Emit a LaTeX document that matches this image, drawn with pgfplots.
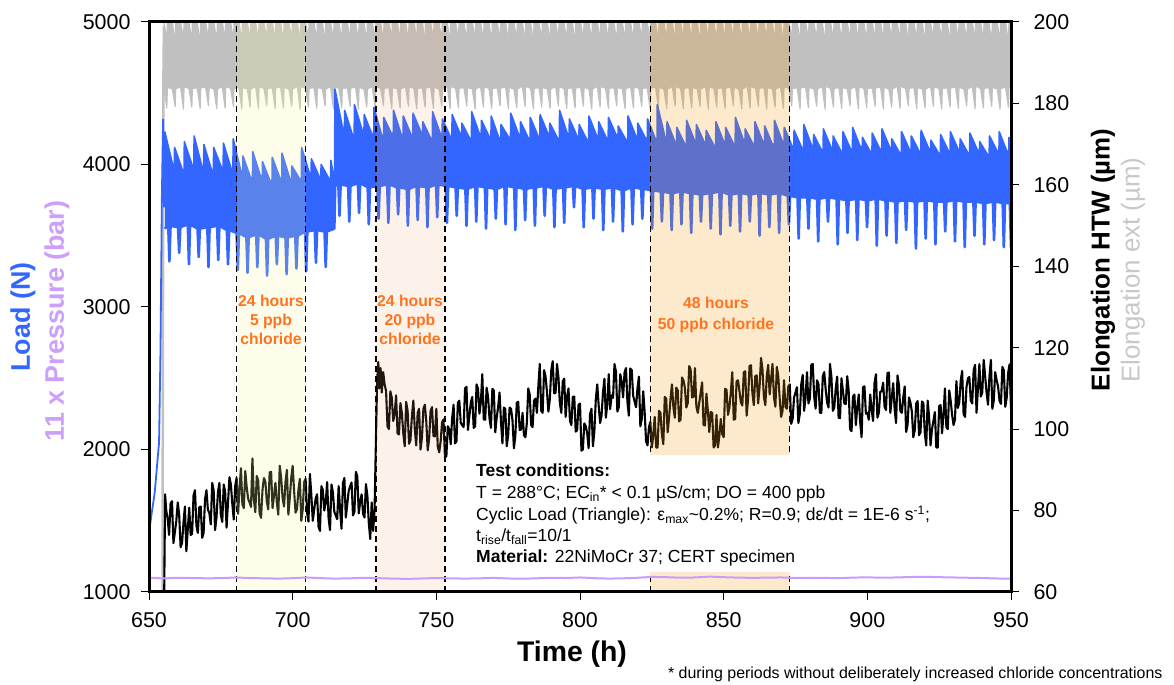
\documentclass[border=0pt]{standalone}
\usepackage{fontspec}
\setmainfont{Liberation Sans}
\usepackage{pgfplots}
\usepackage{pgfplotstable}
\pgfplotsset{compat=1.18}
\usepgfplotslibrary{fillbetween}

\definecolor{loadblue}{RGB}{51,102,255}
\definecolor{extgray}{RGB}{192,192,192}
\definecolor{presviolet}{RGB}{200,155,255}
\definecolor{labelviolet}{RGB}{204,160,250}
\definecolor{labelgray}{RGB}{200,200,200}
\definecolor{clorange}{RGB}{255,115,30}
\definecolor{zoneA}{RGB}{250,245,155}
\definecolor{zoneB}{RGB}{240,165,100}
\definecolor{zoneC}{RGB}{246,155,19}

% external extensometer: band between upper and lower envelope (um)
\pgfplotstableread[row sep=\\]{
x top bot\\
655.2 200 183.9\\ 656.2 195.4 178.9\\ 656.4 200 183.9\\
658.1 200 183.6\\ 659.1 195.0 179.3\\ 659.3 200 183.6\\
661.0 200 184.1\\ 662.0 195.6 178.6\\ 662.2 200 184.1\\
663.9 200 183.7\\ 664.9 195.2 179.1\\ 665.1 200 183.7\\
666.8 200 183.8\\ 667.8 194.8 178.8\\ 668.0 200 183.8\\
669.7 200 184.0\\ 670.7 195.5 179.4\\ 670.9 200 184.0\\
672.6 200 183.5\\ 673.6 195.1 178.7\\ 673.8 200 183.5\\
675.5 200 184.2\\ 676.5 195.7 178.9\\ 676.7 200 184.2\\
678.4 200 183.7\\ 679.4 195.3 179.3\\ 679.6 200 183.7\\
681.3 200 183.9\\ 682.3 194.9 178.6\\ 682.5 200 183.9\\
684.2 200 183.6\\ 685.2 195.4 179.1\\ 685.4 200 183.6\\
687.1 200 184.1\\ 688.1 195.0 178.8\\ 688.3 200 184.1\\
690.0 200 183.7\\ 691.0 195.6 179.4\\ 691.2 200 183.7\\
692.9 200 183.8\\ 693.9 195.2 178.7\\ 694.1 200 183.8\\
695.8 200 184.0\\ 696.8 194.8 178.9\\ 697.0 200 184.0\\
698.7 200 183.5\\ 699.7 195.5 179.3\\ 699.9 200 183.5\\
701.6 200 184.2\\ 702.6 195.1 178.6\\ 702.8 200 184.2\\
704.5 200 183.7\\ 705.5 195.7 179.1\\ 705.7 200 183.7\\
707.4 200 183.9\\ 708.4 195.3 178.8\\ 708.6 200 183.9\\
710.3 200 183.6\\ 711.3 194.9 179.4\\ 711.5 200 183.6\\
713.2 200 184.1\\ 714.2 195.4 178.7\\ 714.4 200 184.1\\
716.1 200 183.7\\ 717.1 195.0 178.9\\ 717.3 200 183.7\\
719.0 200 183.8\\ 720.0 195.6 179.3\\ 720.2 200 183.8\\
721.9 200 184.0\\ 722.9 195.2 178.6\\ 723.1 200 184.0\\
724.8 200 183.5\\ 725.8 194.8 179.1\\ 726.0 200 183.5\\
727.7 200 184.2\\ 728.7 195.5 178.8\\ 728.9 200 184.2\\
730.6 200 183.7\\ 731.6 195.1 179.4\\ 731.8 200 183.7\\
733.5 200 183.9\\ 734.5 195.7 178.7\\ 734.7 200 183.9\\
736.4 200 183.6\\ 737.4 195.3 178.9\\ 737.6 200 183.6\\
739.3 200 184.1\\ 740.3 194.9 179.3\\ 740.5 200 184.1\\
742.2 200 183.7\\ 743.2 195.4 178.6\\ 743.4 200 183.7\\
745.1 200 183.8\\ 746.1 195.0 179.1\\ 746.3 200 183.8\\
748.0 200 184.0\\ 749.0 195.6 178.8\\ 749.2 200 184.0\\
750.9 200 183.5\\ 751.9 195.2 179.4\\ 752.1 200 183.5\\
753.8 200 184.2\\ 754.8 194.8 178.7\\ 755.0 200 184.2\\
756.7 200 183.7\\ 757.7 195.5 178.9\\ 757.9 200 183.7\\
759.6 200 183.9\\ 760.6 195.1 179.3\\ 760.8 200 183.9\\
762.5 200 183.6\\ 763.5 195.7 178.6\\ 763.7 200 183.6\\
765.4 200 184.1\\ 766.4 195.3 179.1\\ 766.6 200 184.1\\
768.3 200 183.7\\ 769.3 194.9 178.8\\ 769.5 200 183.7\\
771.2 200 183.8\\ 772.2 195.4 179.4\\ 772.4 200 183.8\\
774.1 200 184.0\\ 775.1 195.0 178.7\\ 775.3 200 184.0\\
777.0 200 183.5\\ 778.0 195.6 178.9\\ 778.2 200 183.5\\
779.9 200 184.2\\ 780.9 195.2 179.3\\ 781.1 200 184.2\\
782.8 200 183.7\\ 783.8 194.8 178.6\\ 784.0 200 183.7\\
785.7 200 183.9\\ 786.7 195.5 179.1\\ 786.9 200 183.9\\
788.6 200 183.6\\ 789.6 195.1 178.8\\ 789.8 200 183.6\\
791.5 200 184.1\\ 792.5 195.7 179.4\\ 792.7 200 184.1\\
794.4 200 183.7\\ 795.4 195.3 178.7\\ 795.6 200 183.7\\
797.3 200 183.8\\ 798.3 194.9 178.9\\ 798.5 200 183.8\\
800.2 200 184.0\\ 801.2 195.4 179.3\\ 801.4 200 184.0\\
803.1 200 183.5\\ 804.1 195.0 178.6\\ 804.3 200 183.5\\
806.0 200 184.2\\ 807.0 195.6 179.1\\ 807.2 200 184.2\\
808.9 200 183.7\\ 809.9 195.2 178.8\\ 810.1 200 183.7\\
811.8 200 183.9\\ 812.8 194.8 179.4\\ 813.0 200 183.9\\
814.7 200 183.6\\ 815.7 195.5 178.7\\ 815.9 200 183.6\\
817.6 200 184.1\\ 818.6 195.1 178.9\\ 818.8 200 184.1\\
820.5 200 183.7\\ 821.5 195.7 179.3\\ 821.7 200 183.7\\
823.4 200 183.8\\ 824.4 195.3 178.6\\ 824.6 200 183.8\\
826.3 200 184.0\\ 827.3 194.9 179.1\\ 827.5 200 184.0\\
829.2 200 183.5\\ 830.2 195.4 178.8\\ 830.4 200 183.5\\
832.1 200 184.2\\ 833.1 195.0 179.4\\ 833.3 200 184.2\\
835.0 200 183.7\\ 836.0 195.6 178.7\\ 836.2 200 183.7\\
837.9 200 183.9\\ 838.9 195.2 178.9\\ 839.1 200 183.9\\
840.8 200 183.6\\ 841.8 194.8 179.3\\ 842.0 200 183.6\\
843.7 200 184.1\\ 844.7 195.5 178.6\\ 844.9 200 184.1\\
846.6 200 183.7\\ 847.6 195.1 179.1\\ 847.8 200 183.7\\
849.5 200 183.8\\ 850.5 195.7 178.8\\ 850.7 200 183.8\\
852.4 200 184.0\\ 853.4 195.3 179.4\\ 853.6 200 184.0\\
855.3 200 183.5\\ 856.3 194.9 178.7\\ 856.5 200 183.5\\
858.2 200 184.2\\ 859.2 195.4 178.9\\ 859.4 200 184.2\\
861.1 200 183.7\\ 862.1 195.0 179.3\\ 862.3 200 183.7\\
864.0 200 183.9\\ 865.0 195.6 178.6\\ 865.2 200 183.9\\
866.9 200 183.6\\ 867.9 195.2 179.1\\ 868.1 200 183.6\\
869.8 200 184.1\\ 870.8 194.8 178.8\\ 871.0 200 184.1\\
872.7 200 183.7\\ 873.7 195.5 179.4\\ 873.9 200 183.7\\
875.6 200 183.8\\ 876.6 195.1 178.7\\ 876.8 200 183.8\\
878.5 200 184.0\\ 879.5 195.7 178.9\\ 879.7 200 184.0\\
881.4 200 183.5\\ 882.4 195.3 179.3\\ 882.6 200 183.5\\
884.3 200 184.2\\ 885.3 194.9 178.6\\ 885.5 200 184.2\\
887.2 200 183.7\\ 888.2 195.4 179.1\\ 888.4 200 183.7\\
890.1 200 183.9\\ 891.1 195.0 178.8\\ 891.3 200 183.9\\
893.0 200 183.6\\ 894.0 195.6 179.4\\ 894.2 200 183.6\\
895.9 200 184.1\\ 896.9 195.2 178.7\\ 897.1 200 184.1\\
898.8 200 183.7\\ 899.8 194.8 178.9\\ 900.0 200 183.7\\
901.7 200 183.8\\ 902.7 195.5 179.3\\ 902.9 200 183.8\\
904.6 200 184.0\\ 905.6 195.1 178.6\\ 905.8 200 184.0\\
907.5 200 183.5\\ 908.5 195.7 179.1\\ 908.7 200 183.5\\
910.4 200 184.2\\ 911.4 195.3 178.8\\ 911.6 200 184.2\\
913.3 200 183.7\\ 914.3 194.9 179.4\\ 914.5 200 183.7\\
916.2 200 183.9\\ 917.2 195.4 178.7\\ 917.4 200 183.9\\
919.1 200 183.6\\ 920.1 195.0 178.9\\ 920.3 200 183.6\\
922.0 200 184.1\\ 923.0 195.6 179.3\\ 923.2 200 184.1\\
924.9 200 183.7\\ 925.9 195.2 178.6\\ 926.1 200 183.7\\
927.8 200 183.8\\ 928.8 194.8 179.1\\ 929.0 200 183.8\\
930.7 200 184.0\\ 931.7 195.5 178.8\\ 931.9 200 184.0\\
933.6 200 183.5\\ 934.6 195.1 179.4\\ 934.8 200 183.5\\
936.5 200 184.2\\ 937.5 195.7 178.7\\ 937.7 200 184.2\\
939.4 200 183.7\\ 940.4 195.3 178.9\\ 940.6 200 183.7\\
942.3 200 183.9\\ 943.3 194.9 179.3\\ 943.5 200 183.9\\
945.2 200 183.6\\ 946.2 195.4 178.6\\ 946.4 200 183.6\\
948.1 200 184.1\\ 949.1 195.0 179.1\\ 949.3 200 184.1\\
950.0 200 184.0\\
}\extdata

\begin{document}
\begin{tikzpicture}

% ---------- right axis: elongation ----------
\begin{axis}[
  at={(149bp,93bp)}, anchor=south west, scale only axis,
  width=862bp, height=570bp,
  xmin=650, xmax=950, ymin=60, ymax=200,
  axis x line=none, axis y line*=right,
  axis line style={-, line width=3bp},
  ytick={60,80,...,200},
  tick align=outside, major tick length=8bp,
  tick style={black, line width=1bp},
  ticklabel style={font=\fontsize{21.5}{21.5}\selectfont},
  yticklabel style={xshift=11bp},
  /pgf/number format/assume math mode=true,
]
\addplot[name path=exttop, extgray, line width=1.2bp, line join=round] table[x=x, y=top] {\extdata};
\addplot[name path=extbot, extgray, line width=1.2bp, line join=round] table[x=x, y=bot] {\extdata};
\addplot[extgray, draw=none] fill between[of=exttop and extbot];
\addplot[extgray, line width=2.5bp] coordinates {(654.7,60) (655.0,185) (655.2,199)};

% HTW elongation
\addplot[black, line width=2.1bp, line join=round] coordinates {
(655.3,60) (655.6,84) (656,80) (656.5,78) (657,74) (657.5,81.7) (658,82.3) (658.5,72) (659,74.7) (659.5,77.4)
(660,82) (660.5,79) (661,71) (661.5,72) (662,77) (662.5,81) (663,70) (663.5,75.4) (664,80.7) (664.5,74)
(665,74.3) (665.5,83.7) (666,85) (666.5,76.3) (667,74.5) (667.5,80.8) (668,81) (668.5,73.3) (669,74.5) (669.5,82.8)
(670,85) (670.5,80.2) (671,79.4) (671.5,76.6) (672,86.8) (672.5,85) (673,75.2) (673.5,78.4) (674,84.6) (674.5,86.8)
(675,79) (675.5,77.2) (676,86.4) (676.5,84.6) (677,75.8) (677.5,82) (678,88.2) (678.5,86.4) (679,81.6) (679.5,77.8)
(680,86) (680.5,88.1) (681,79.2) (681.5,85.3) (682,90.4) (682.5,81.5) (683,80.6) (683.5,89.7) (684,85.8) (684.5,82.9)
(685,82) (685.5,80.9) (686,92.8) (686.5,82.7) (687,79.6) (687.5,88.5) (688,87.4) (688.5,79.3) (689,78.2) (689.5,85.1)
(690,88) (690.5,87.1) (691,82.2) (691.5,80.3) (692,89.4) (692.5,89.5) (693,80.6) (693.5,83.7) (694,86.8) (694.5,81.9)
(695,79) (695.5,91) (696,88) (696.5,83) (697,81) (697.5,87) (698,90) (698.5,79) (699,83) (699.5,88)
(700,91) (700.5,84.8) (701,79.5) (701.5,80.3) (702,85) (702.5,87.8) (703,77.5) (703.5,80.3) (704,87) (704.5,87.8)
(705,79.5) (705.5,77.3) (706,89) (706.5,83.8) (707,77.5) (707.5,80.3) (708,83) (708.5,84) (709,76) (709.5,75)
(710,86) (710.5,85) (711,80) (711.5,82) (712,87) (712.5,78.1) (713,75.2) (713.5,86.4) (714,84.5) (714.5,79.7)
(715,78.8) (715.5,77.9) (716,86) (716.5,80.3) (717,75.5) (717.5,86.8) (718,88) (718.5,78.3) (719,81.5) (719.5,84.8)
(720,86) (720.5,86.9) (721,78.8) (721.5,79.7) (722,89.5) (722.5,88.4) (723,79.3) (723.5,82.2) (724,84) (724.5,79.2)
(725,78.3) (725.5,86.5) (726,83.7) (726.5,76.9) (727,73) (727.5,82) (728,75) (728.5,80) (729,98) (729.4,112)
(729.8,116.5) (730.2,110) (730.6,115) (731,109) (731.5,114) (732,111) (732.5,109.4) (733,100.7) (733.5,100) (734,109.3)
(734.5,107.7) (735,102) (735.5,103.7) (736,108.3) (736.5,99) (737,98.7) (737.5,106.4) (738,104) (738.5,98.9) (739,95.8)
(739.5,106.7) (740,104.5) (740.5,96.4) (741,97.3) (741.5,103.2) (742,107) (742.5,100) (743,96) (743.5,104) (744,105)
(744.5,95) (745,98) (745.5,105) (746,106) (746.5,101.9) (747,94.8) (747.5,97.7) (748,104.5) (748.5,105.4) (749,98.3)
(749.5,98.2) (750,105) (750.5,95.7) (751,94.3) (751.5,97) (752,101.7) (752.5,102.4) (753,93) (753.5,93.4) (754,100.7)
(754.5,100) (755,96.3) (755.5,102.7) (756,106) (756.5,96.5) (757,97) (757.5,106.5) (758,107) (758.5,101.5) (759,101)
(759.5,100.5) (760,110) (760.5,110.4) (761,99.8) (761.5,103.2) (762,106.5) (762.5,107.9) (763,100.3) (763.5,100.7) (764,111)
(764.5,109.9) (765,103.8) (765.5,106.7) (766,113.5) (766.5,102.4) (767,102.3) (767.5,110.2) (768,108) (768.5,102.7) (769,100.3)
(769.5,109.9) (770,109.5) (770.5,99.2) (771,102.8) (771.5,105.4) (772,109) (772.5,101.8) (773,96.5) (773.5,105.3) (774,105)
(774.5,95.8) (775,98.5) (775.5,105.3) (776,105) (776.5,102.2) (777,95.3) (777.5,98.4) (778,106.5) (778.5,106.7) (779,99.8)
(779.5,99.9) (780,104) (780.5,98.5) (781,98) (781.5,101.5) (782,110) (782.5,108.5) (783,101) (783.5,100.5) (784,107)
(784.5,107.5) (785,104) (785.5,110.5) (786,116) (786.5,104.5) (787,104) (787.5,114.5) (788,113) (788.5,109.2) (789,104.3)
(789.5,107.4) (790,114.5) (790.5,116.7) (791,108.8) (791.5,108.9) (792,116) (792.5,112.7) (793,106.3) (793.5,104) (794,111.7)
(794.5,112.4) (795,103) (795.5,108) (796,110) (796.5,102) (797,101) (797.5,108) (798,108) (798.5,99.4) (799,99.7)
(799.5,106) (800,106.3) (800.5,94.7) (801,95) (801.5,101.4) (802,100.7) (802.5,99) (803,95.3) (803.5,103.7) (804,105)
(804.5,95.8) (805,99.5) (805.5,107.3) (806,111) (806.5,105.8) (807,101.5) (807.5,103.3) (808,109) (808.5,112.4) (809,102.8)
(809.5,106.2) (810,113.5) (810.5,104.9) (811,108.3) (811.5,107.7) (812,116) (812.5,114.2) (813,104.3) (813.5,105.4) (814,113.5)
(814.5,111.7) (815,107.8) (815.5,113.9) (816,115) (816.5,106.7) (817,103.3) (817.5,114.9) (818,114.5) (818.5,108.2) (819,106.8)
(819.5,105.4) (820,110) (820.5,112.9) (821,100.7) (821.5,102.5) (822,109.3) (822.5,104.2) (823,97) (823.5,96) (824,100.5)
(824.5,101.8) (825,95.5) (825.5,98.5) (826,103) (826.5,95.5) (827,95.5) (827.5,104.5) (828,104) (828.5,98.7) (829,96.3)
(829.5,107.9) (830,107.5) (830.5,99.2) (831,102.8) (831.5,107.4) (832,111) (832.5,105.4) (833,102.8) (833.5,110.2) (834,109.5)
(834.5,101.9) (835,102.3) (835.5,112.7) (836,112) (836.5,110.2) (837,105.3) (837.5,106.4) (838,115.5) (838.5,114.7) (839,107.8)
(839.5,107.9) (840,115) (840.5,105.5) (841,104) (841.5,106.5) (842,109) (842.5,111.5) (843,101) (843.5,100.9) (844,108.7)
(844.5,104.5) (845,99.3) (845.5,104.2) (846,104) (846.5,95.5) (847,96) (847.5,103.5) (848,95.5) (848.5,98.3) (849,102.5)
(849.5,98.8) (850,98) (850.5,109.9) (851,109.7) (851.5,103.5) (852,105.3) (852.5,109.2) (853,114) (853.5,102.3) (854,102.5)
(854.5,111.8) (855,112) (855.5,109.3) (856,106.5) (856.5,105.8) (857,114) (857.5,114.2) (858,103.3) (858.5,107.4) (859,115.5)
(859.5,115.7) (860,108.8) (860.5,105.9) (861,113) (861.5,113.2) (862,106.3) (862.5,110.4) (863,117.5) (863.5,114.7) (864,107.8)
(864.5,105.9) (865,113) (865.5,115.8) (866,108.5) (866.5,112.3) (867,116) (867.5,107.8) (868,105.5) (868.5,115.3) (869,113)
(869.5,107.5) (870,103) (870.5,104.5) (871,112) (871.5,105.5) (872,105) (872.5,110.5) (873,111) (873.5,101.3) (874,102.5)
(874.5,107.8) (875,109) (875.5,110.3) (876,101.5) (876.5,103.8) (877,111) (877.5,113.3) (878,104.5) (878.5,107.8) (879,114)
(879.5,106.3) (880,107.5) (880.5,115.8) (881,116) (881.5,108) (882,105) (882.5,112) (883,111) (883.5,104) (884,104)
(884.5,113) (885,114) (885.5,109.8) (886,106.5) (886.5,105.3) (887,116) (887.5,112.8) (888,104.5) (888.5,105.3) (889,110)
(889.5,112.9) (890,102.8) (890.5,102.7) (891,112.5) (891.5,109.4) (892,106.3) (892.5,106.2) (893,113) (893.5,109.5) (894,100)
(894.5,99.5) (895,108) (895.5,108.5) (896,101) (896.5,105.3) (897,108.5) (897.5,101.8) (898,98) (898.5,110.3) (899,110.5)
(899.5,103.8) (900,104) (900.5,102.3) (901,108.5) (901.5,104.8) (902,102) (902.5,111.3) (903,113.5) (903.5,102.8) (904,104)
(904.5,109.2) (905,109.3) (905.5,111.4) (906,105.5) (906.5,104.7) (907,113.8) (907.5,113.9) (908,104) (908.5,107.7) (909,111.3)
(909.5,104.9) (910,101.5) (910.5,113.2) (911,110.8) (911.5,104.4) (912,104) (912.5,107.8) (913,110.5) (913.5,99.3) (914,101)
(914.5,107.8) (915,106.5) (915.5,104.3) (916,98) (916.5,99.7) (917,106.3) (917.5,106.9) (918,98.5) (918.5,99.2) (919,106.8)
(919.5,106.4) (920,99) (920.5,96) (921,107) (921.5,103) (922,96) (922.5,100) (923,102) (923.5,104.2) (924,95.5)
(924.5,95.5) (925,105.7) (925.5,105.9) (926,99) (926.5,103.5) (927,110) (927.5,100.5) (928,100) (928.5,109.5) (929,107)
(929.5,103.5) (930,101) (930.5,102.4) (931,111.8) (931.5,105.2) (932,106.5) (932.5,111.9) (933,114.3) (933.5,103.7) (934,103)
(934.5,110.3) (935,112.5) (935.5,112.8) (936,107) (936.5,106.3) (937,114.5) (937.5,115.8) (938,104) (938.5,110) (939,116)
(939.5,108) (940,109) (940.5,117) (941,113) (941.5,109) (942,106) (942.5,113) (943,117) (943.5,105) (944,107)
(944.5,114) (945,112) (945.5,110.5) (946,107) (946.5,106.2) (947,115.3) (947.5,114.4) (948,105.5) (948.5,107.7) (949,113.8)
(949.5,115.9) (950,105)};
\end{axis}

% ---------- left axis: load and pressure ----------
\begin{axis}[
  at={(149bp,93bp)}, anchor=south west, scale only axis,
  width=862bp, height=570bp,
  xmin=650, xmax=950, ymin=1000, ymax=5000,
  xtick={650,700,...,950}, ytick={1000,2000,...,5000},
  xtick pos=left, ytick pos=left,
  axis line style={line width=3bp},
  tick align=outside, major tick length=8bp,
  tick style={black, line width=1bp},
  ticklabel style={font=\fontsize{21.5}{21.5}\selectfont},
  yticklabel style={xshift=-7bp},
  xticklabel style={yshift=-9bp},
  /pgf/number format/assume math mode=true,
  /pgf/number format/1000 sep={},
  axis on top,
]
% load: upper and lower envelope of the cyclic signal
\addplot[name path=loadup, loadblue, line width=1.6bp, line join=round] coordinates {
(655.5,4230) (658.8,3950) (658.9,4120) (662.2,3930) (662.3,4160) (665.6,3960) (665.7,4200) (669.0,3940)
(669.1,4140) (672.4,3920) (672.5,4120) (675.8,3950) (675.9,4150) (679.2,3930) (679.3,4180) (682.6,3900)
(682.7,4060) (686.0,3870) (686.1,4090) (689.4,3880) (689.5,4020) (692.8,3850) (692.9,4050) (696.2,3870)
(696.3,4080) (699.6,3860) (699.7,3990) (703.0,3880) (703.1,4120) (706.4,3900) (706.5,4040) (709.8,3890)
(709.9,4000) (713.2,3880) (713.3,4030) (714.6,3870)
(714.7,4530) (718.0,4190) (718.1,4380) (721.4,4170) (721.5,4420) (724.8,4200) (724.9,4350) (728.2,4180)
(728.3,4400) (731.6,4160) (731.7,4330) (735.0,4190) (735.1,4380) (738.4,4170) (738.5,4340) (741.8,4180)
(741.9,4360) (745.2,4200) (745.3,4300) (748.6,4160) (748.7,4370) (752.0,4180) (752.1,4320) (755.4,4170)
(755.5,4350) (758.8,4190) (758.9,4290) (762.2,4160) (762.3,4370) (765.6,4180) (765.7,4310) (769.0,4170)
(769.1,4340) (772.4,4150) (772.5,4280) (775.8,4170) (775.9,4360) (779.2,4180) (779.3,4300) (782.6,4160)
(782.7,4330) (786.0,4170) (786.1,4350) (789.4,4190) (789.5,4290) (792.8,4160) (792.9,4380) (796.2,4180)
(796.3,4320) (799.6,4170) (799.7,4280) (803.0,4150) (803.1,4340) (806.4,4170) (806.5,4300) (809.8,4160)
(809.9,4330) (813.2,4180) (813.3,4270) (816.6,4150) (816.7,4340) (820.0,4170) (820.1,4290) (823.4,4160)
(823.5,4320) (826.8,4150) (826.9,4420) (830.2,4140) (830.3,4300) (833.6,4130) (833.7,4260) (837.0,4120)
(837.1,4310) (840.4,4140) (840.5,4280) (843.8,4130) (843.9,4240) (847.2,4110) (847.3,4300) (850.6,4130)
(850.7,4260) (854.0,4120) (854.1,4330) (857.4,4140) (857.5,4250) (860.8,4120) (860.9,4300) (864.2,4130)
(864.3,4270) (867.6,4110) (867.7,4310) (871.0,4130) (871.1,4260) (874.4,4100) (874.5,4240) (877.8,4090)
(877.9,4280) (881.2,4100) (881.3,4210) (884.6,4080) (884.7,4250) (888.0,4090) (888.1,4200) (891.4,4070)
(891.5,4230) (894.8,4080) (894.9,4260) (898.2,4090) (898.3,4190) (901.6,4070) (901.7,4220) (905.0,4080)
(905.1,4250) (908.4,4090) (908.5,4180) (911.8,4060) (911.9,4230) (915.2,4080) (915.3,4200) (918.6,4070)
(918.7,4240) (922.0,4080) (922.1,4170) (925.4,4060) (925.5,4210) (928.8,4070) (928.9,4230) (932.2,4080)
(932.3,4180) (935.6,4060) (935.7,4220) (939.0,4070) (939.1,4160) (942.4,4050) (942.5,4200) (945.8,4070)
(945.9,4230) (949.2,4060) (949.3,4190) (950,4050)};
\addplot[name path=loadlow, loadblue, line width=2.6bp, line join=round] coordinates {
(655.5,3550) (656.7,3570) (657.1,3320) (657.5,3570) (660.1,3560) (660.5,3380) (660.9,3560) (663.5,3580)
(663.9,3300) (664.3,3580) (666.9,3550) (667.3,3350) (667.7,3550) (670.3,3560) (670.7,3280) (671.1,3560)
(673.7,3570) (674.1,3330) (674.5,3570) (677.1,3540) (677.5,3300) (677.9,3540) (680.5,3520) (680.9,3260)
(681.3,3520) (683.9,3490) (684.3,3240) (684.7,3490) (687.3,3510) (687.7,3280) (688.1,3510) (690.7,3480)
(691.1,3220) (691.5,3480) (694.1,3500) (694.5,3300) (694.9,3500) (697.5,3490) (697.9,3230) (698.3,3490)
(700.9,3500) (701.3,3270) (701.7,3500) (704.3,3530) (704.7,3250) (705.1,3530) (707.7,3540) (708.1,3310)
(708.5,3540) (711.1,3530) (711.5,3280) (711.9,3530) (714.5,3550) (714.8,3850)
(715.9,3860) (716.3,3640) (716.7,3860) (719.3,3850) (719.7,3600) (720.1,3850) (722.7,3870) (723.1,3660)
(723.5,3870) (726.1,3840) (726.5,3580) (726.9,3840) (729.5,3850) (729.9,3620) (730.3,3850) (732.9,3860)
(733.3,3590) (733.7,3860) (736.3,3840) (736.7,3650) (737.1,3840) (739.7,3830) (740.1,3570) (740.5,3830)
(743.1,3850) (743.5,3610) (743.9,3850) (746.5,3840) (746.9,3560) (747.3,3840) (749.9,3860) (750.3,3630)
(750.7,3860) (753.3,3850) (753.7,3590) (754.1,3850) (756.7,3840) (757.1,3640) (757.5,3840) (760.1,3830)
(760.5,3570) (760.9,3830) (763.5,3850) (763.9,3600) (764.3,3850) (766.9,3840) (767.3,3550) (767.7,3840)
(770.3,3830) (770.7,3620) (771.1,3830) (773.7,3850) (774.1,3580) (774.5,3850) (777.1,3840) (777.5,3540)
(777.9,3840) (780.5,3830) (780.9,3610) (781.3,3830) (783.9,3840) (784.3,3570) (784.7,3840) (787.3,3850)
(787.7,3640) (788.1,3850) (790.7,3830) (791.1,3560) (791.5,3830) (794.1,3840) (794.5,3590) (794.9,3840)
(797.5,3850) (797.9,3700) (798.3,3850) (800.9,3830) (801.3,3560) (801.7,3830) (804.3,3840) (804.7,3620)
(805.1,3840) (807.7,3830) (808.1,3540) (808.5,3830) (811.1,3840) (811.5,3600) (811.9,3840) (814.5,3820)
(814.9,3530) (815.3,3820) (817.9,3840) (818.3,3580) (818.7,3840) (821.3,3830) (821.7,3620) (822.1,3830)
(824.7,3820) (825.1,3550) (825.5,3820) (828.1,3810) (828.5,3600) (828.9,3810) (831.5,3800) (831.9,3540)
(832.3,3800) (834.9,3810) (835.3,3580) (835.7,3810) (838.3,3800) (838.7,3520) (839.1,3800) (841.7,3790)
(842.1,3600) (842.5,3790) (845.1,3800) (845.5,3550) (845.9,3800) (848.5,3810) (848.9,3510) (849.3,3810)
(851.9,3790) (852.3,3570) (852.7,3790) (855.3,3800) (855.7,3530) (856.1,3800) (858.7,3790) (859.1,3600)
(859.5,3790) (862.1,3800) (862.5,3500) (862.9,3800) (865.5,3790) (865.9,3560) (866.3,3790) (868.9,3800)
(869.3,3520) (869.7,3800) (872.3,3780) (872.7,3580) (873.1,3780) (875.7,3770) (876.1,3480) (876.5,3770)
(879.1,3770) (879.5,3550) (879.9,3770) (882.5,3760) (882.9,3460) (883.3,3760) (885.9,3770) (886.3,3600)
(886.7,3770) (889.3,3760) (889.7,3440) (890.1,3760) (892.7,3750) (893.1,3520) (893.5,3750) (896.1,3760)
(896.5,3470) (896.9,3760) (899.5,3750) (899.9,3560) (900.3,3750) (902.9,3760) (903.3,3430) (903.7,3760)
(906.3,3750) (906.7,3500) (907.1,3750) (909.7,3740) (910.1,3450) (910.5,3740) (913.1,3750) (913.5,3540)
(913.9,3750) (916.5,3740) (916.9,3410) (917.3,3740) (919.9,3750) (920.3,3480) (920.7,3750) (923.3,3740)
(923.7,3440) (924.1,3740) (926.7,3740) (927.1,3530) (927.5,3740) (930.1,3750) (930.5,3460) (930.9,3750)
(933.5,3740) (933.9,3420) (934.3,3740) (936.9,3740) (937.3,3500) (937.7,3740) (940.3,3730) (940.7,3440)
(941.1,3730) (943.7,3740) (944.1,3470) (944.5,3740) (947.1,3730) (947.5,3420) (947.9,3730) (949.6,3730)
(950,3420)};
\addplot[loadblue, draw=none] fill between[of=loadup and loadlow];
\addplot[loadblue, line width=1.8bp] coordinates {
(650,1420) (652,1700) (653.5,2050) (654.0,2700) (654.5,3800) (654.9,4320) (655.2,3700) (655.5,4230)};

% chloride periods
\fill[zoneA, opacity=0.2] (axis cs:680.5,1000) rectangle (axis cs:704.5,5000);
\fill[zoneB, opacity=0.14] (axis cs:729,1000) rectangle (axis cs:753,5000);
\fill[zoneC, opacity=0.22] (axis cs:824.5,1000) rectangle (axis cs:873,5000);
\foreach \tx in {680.5,704.5,729,753,824.5,873} {
  \edef\temp{\noexpand\draw[black, line width=1.3bp, dash pattern=on 6bp off 4bp]
    (axis cs:\tx,1000) -- (axis cs:\tx,5000);}\temp
}
% panel behind the test conditions
\fill[white] (axis cs:757,1140) rectangle (axis cs:948,1961);

% 11 x pressure
\addplot[presviolet, line width=2bp] coordinates {
(650,1100) (655,1095) (660,1100) (665,1098) (670,1096) (675,1097) (680,1102) (685,1098) (690,1096)
(695,1094) (700,1097) (705,1102) (710,1097) (715,1094) (720,1096) (725,1100) (730,1097) (735,1094)
(740,1092) (745,1095) (750,1098) (755,1096) (760,1094) (765,1096) (770,1099) (775,1095) (780,1093)
(785,1096) (790,1100) (795,1098) (800,1102) (805,1097) (810,1094) (815,1096) (820,1100) (825,1106)
(830,1104) (835,1100) (840,1102) (845,1108) (850,1104) (855,1101) (860,1099) (865,1101) (870,1102)
(875,1098) (880,1100) (885,1099) (890,1097) (895,1101) (900,1103) (905,1100) (910,1102) (915,1105)
(920,1107) (925,1104) (930,1102) (935,1100) (940,1098) (945,1095) (950,1093)};
\end{axis}

% ---------- axis titles ----------
\node[rotate=90, font=\bfseries\fontsize{27}{27}\selectfont, text=loadblue] at (23bp,368bp) {Load (N)};
\node[rotate=90, font=\bfseries\fontsize{27}{27}\selectfont, text=labelviolet] at (57bp,364bp) {11 x Pressure (bar)};
\node[rotate=90, font=\bfseries\fontsize{26}{26}\selectfont] at (1103bp,425bp) {Elongation HTW (µm)};
\node[rotate=90, font=\fontsize{26}{26}\selectfont, text=labelgray] at (1133bp,415bp) {Elongation ext (µm)};
\node[font=\bfseries\fontsize{28.5}{28.5}\selectfont] at (572bp,31bp) {Time (h)};
\node[anchor=east, font=\fontsize{16}{16}\selectfont] at (1166bp,11bp)
  {* during periods without deliberately increased chloride concentrations};

% ---------- chloride period labels ----------
\node[align=center, font=\bfseries\fontsize{15.8}{19}\selectfont, text=clorange] at (271bp,365.5bp) {24 hours\\5 ppb\\chloride};
\node[align=center, font=\bfseries\fontsize{15.8}{19}\selectfont, text=clorange] at (410bp,365.5bp) {24 hours\\20 ppb\\chloride};
\node[align=center, font=\bfseries\fontsize{15.8}{21}\selectfont, text=clorange] at (716bp,370.5bp) {48 hours\\50 ppb chloride};

% ---------- test conditions ----------
\begin{scope}[every node/.style={anchor=base west, inner sep=0pt, font=\fontsize{17.6}{17.6}\selectfont}]
\node at (476bp,208bp) {\bfseries Test conditions:};
\node at (476bp,186bp) {T = 288°C; EC\textsubscript{in}* < 0.1 µS/cm; DO = 400 ppb};
\node at (476bp,164bp) {Cyclic Load (Triangle): ε\textsubscript{max}\textasciitilde0.2\%; R=0.9; dε/dt = 1E-6 s\textsuperscript{-1};};
\node at (476bp,143bp) {t\textsubscript{rise}/t\textsubscript{fall}=10/1};
\node at (476bp,122bp) {\textbf{Material:} 22NiMoCr 37; CERT specimen};
\end{scope}

% page extent
\pgfresetboundingbox
\path[use as bounding box] (0,0) rectangle (1174bp,685bp);
\end{tikzpicture}
\end{document}
